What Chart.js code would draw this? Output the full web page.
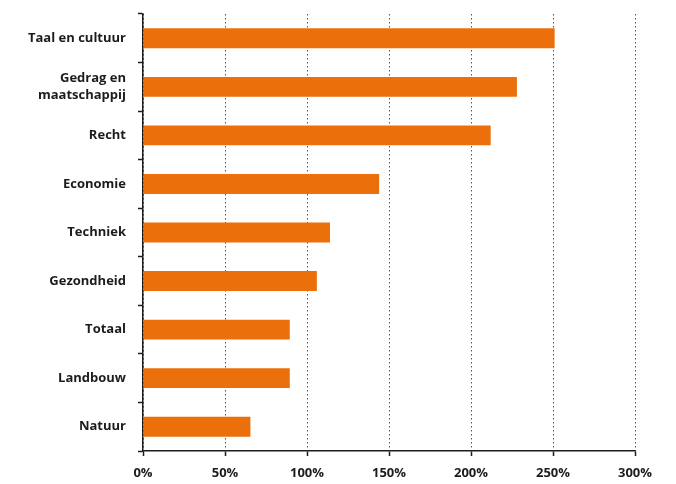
<!DOCTYPE html>
<html>
<head>
<meta charset="utf-8">
<script src="https://cdn.jsdelivr.net/npm/chart.js@4/dist/chart.umd.min.js"></script>
<style>
  html, body { margin: 0; padding: 0; background: #fff; }
  #wrap { width: 676px; height: 484px; position: relative; }
</style>
</head>
<body>
<div id="wrap"><canvas id="chart"></canvas></div>
<script>
// categorieën en waarden (procent)
const categories = [
  "Taal en cultuur",
  ["Gedrag en", "maatschappij"],
  "Recht",
  "Economie",
  "Techniek",
  "Gezondheid",
  "Totaal",
  "Landbouw",
  "Natuur",
];
const values = [251, 228, 212, 144, 114, 106, 89.5, 89.5, 65.5];

const xMin = 0;
const xMax = 300;
const xStep = 50;

const ORANGE = "#EB6F0A";
const INK = "#1c1c1c";
const FONT = { family: "'Open Sans', sans-serif", size: 13, weight: "700", lineHeight: 1.25 };

new Chart(document.getElementById("chart"), {
  type: "bar",
  data: {
    labels: categories,
    datasets: [
      {
        data: values,
        backgroundColor: ORANGE,
        borderWidth: 0,
        barPercentage: 0.41,
        categoryPercentage: 1,
      },
    ],
  },
  options: {
    indexAxis: "y",
    responsive: true,
    maintainAspectRatio: false,
    animation: false,
    layout: { padding: { top: 14, right: 41, left: 0, bottom: 0 } },
    plugins: { legend: { display: false }, tooltip: { enabled: false } },
    scales: {
      x: {
        min: xMin,
        max: xMax,
        afterFit: (s) => { s.height = 33; },
        ticks: {
          stepSize: xStep,
          color: INK,
          font: FONT,
          padding: 9,
          maxRotation: 0,
          callback: (v) => v + "%",
        },
        grid: {
          color: "#555",
          lineWidth: 1,
          tickColor: INK,
          tickLength: 5,
          tickWidth: 1.5,
        },
        border: { color: INK, width: 1.5, dash: [1.5, 2.5] },
      },
      y: {
        afterFit: (s) => {
          s.width = 143;
          s.paddingTop = 0;
          s.paddingBottom = 0;
        },
        ticks: { color: INK, font: FONT, padding: 12 },
        grid: {
          drawOnChartArea: false,
          tickColor: INK,
          tickLength: 5,
          tickWidth: 1.5,
        },
        border: { color: INK, width: 1.5 },
      },
    },
  },
});
</script>
</body>
</html>
